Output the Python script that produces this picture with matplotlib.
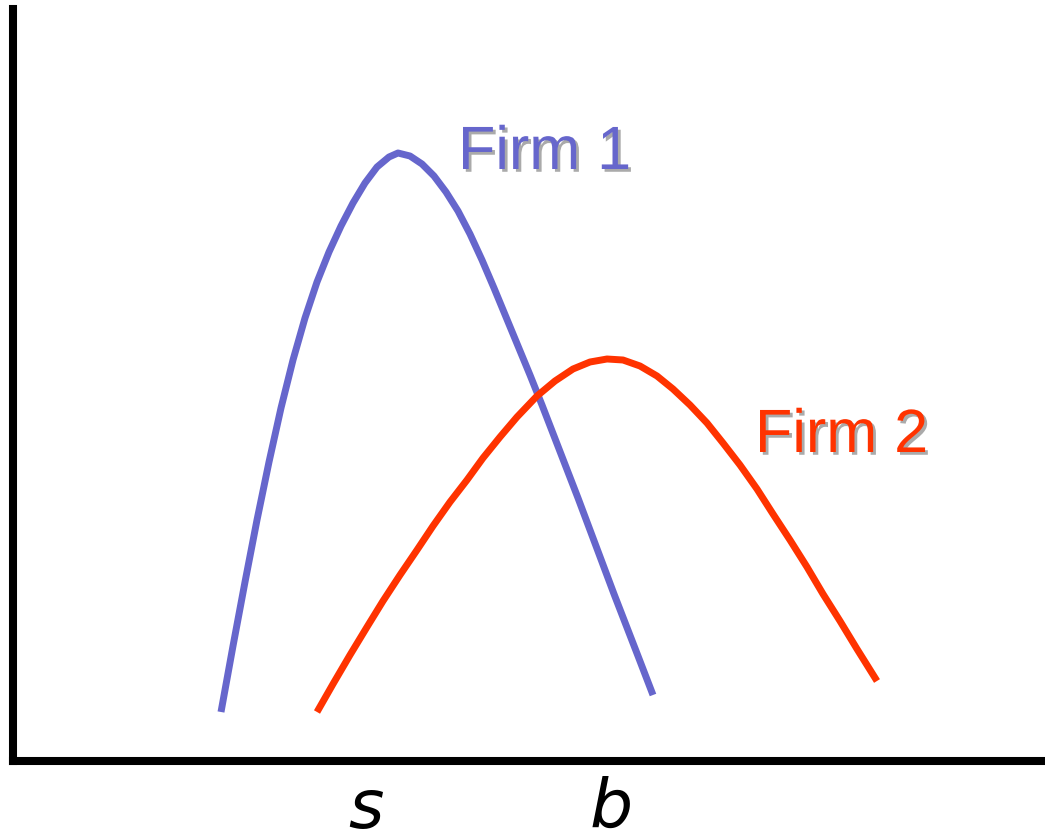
import matplotlib
matplotlib.use("Agg")
import matplotlib.pyplot as plt
import matplotlib.patheffects as pe

# Curve points (x position, height in picture units, y grows downward)
firm1_x = [221, 233, 245, 257, 269, 281, 293, 305, 317, 329, 341, 353, 365, 377, 389, 398,
           410, 422, 434, 446, 458, 470, 482, 494, 506, 518, 530, 542, 554, 566, 578, 590,
           602, 614, 626, 638, 653]
firm1_y = [713, 647, 583, 521, 463, 409, 361, 319, 283, 253, 227, 204, 184, 168, 158, 154,
           157, 165, 177, 193, 212, 235, 261, 289, 318, 347, 376, 406, 437, 468, 499, 531,
           563, 595, 626, 657, 696]
firm2_x = [317, 333, 350, 367, 383, 400, 417, 433, 450, 467, 483, 500, 517, 537, 555, 573, 590,
           607, 623, 640, 657, 673, 690, 707, 723, 740, 757, 773, 790, 807, 823, 840, 857, 877]
firm2_y = [713, 685, 656, 628, 602, 576, 551, 527, 503, 481, 459, 438, 418, 397, 382, 370, 363,
           360, 361, 367, 377, 390, 406, 424, 444, 466, 490, 515, 541, 568, 595, 622, 650, 682]

labels = ["Firm 1", "Firm 2"]
tick_labels = ["s", "b"]
tick_pos = [366, 611]

W, H = 1045, 837
fig = plt.figure(figsize=(W / 100, H / 100), dpi=100)
left, right, top, bottom = 13, 1045, 10, 762
ax = fig.add_axes([left / W, (H - bottom) / H, (right - left) / W, (bottom - top) / H])
ax.set_xlim(left, right)
ax.set_ylim(bottom, top)
for s in ["top", "right"]:
    ax.spines[s].set_visible(False)
for s in ["left", "bottom"]:
    ax.spines[s].set_linewidth(5.8)
    ax.spines[s].set_color("black")
ax.set_xticks([])
ax.set_yticks([])

blue = "#6666CC"
red = "#FF3300"
ax.plot(firm1_x, firm1_y, color=blue, lw=5.0, solid_capstyle="butt",
        solid_joinstyle="round", clip_on=False)
ax.plot(firm2_x, firm2_y, color=red, lw=5.0, solid_capstyle="butt",
        solid_joinstyle="round", clip_on=False)

shadow = [pe.withSimplePatchShadow(offset=(2, -2), shadow_rgbFace="#aaaaaa", alpha=1.0)]
ax.text(458, 170, labels[0], color=blue, fontsize=44, family="Liberation Sans",
        ha="left", va="baseline", path_effects=shadow)
ax.text(755, 453, labels[1], color=red, fontsize=44, family="Liberation Sans",
        ha="left", va="baseline", path_effects=shadow)

for x, t in zip(tick_pos, tick_labels):
    ax.text(x, 828, t, fontsize=49, style="italic", family="DejaVu Sans",
            ha="center", va="baseline", clip_on=False)

fig.savefig("out.png", dpi=100)
